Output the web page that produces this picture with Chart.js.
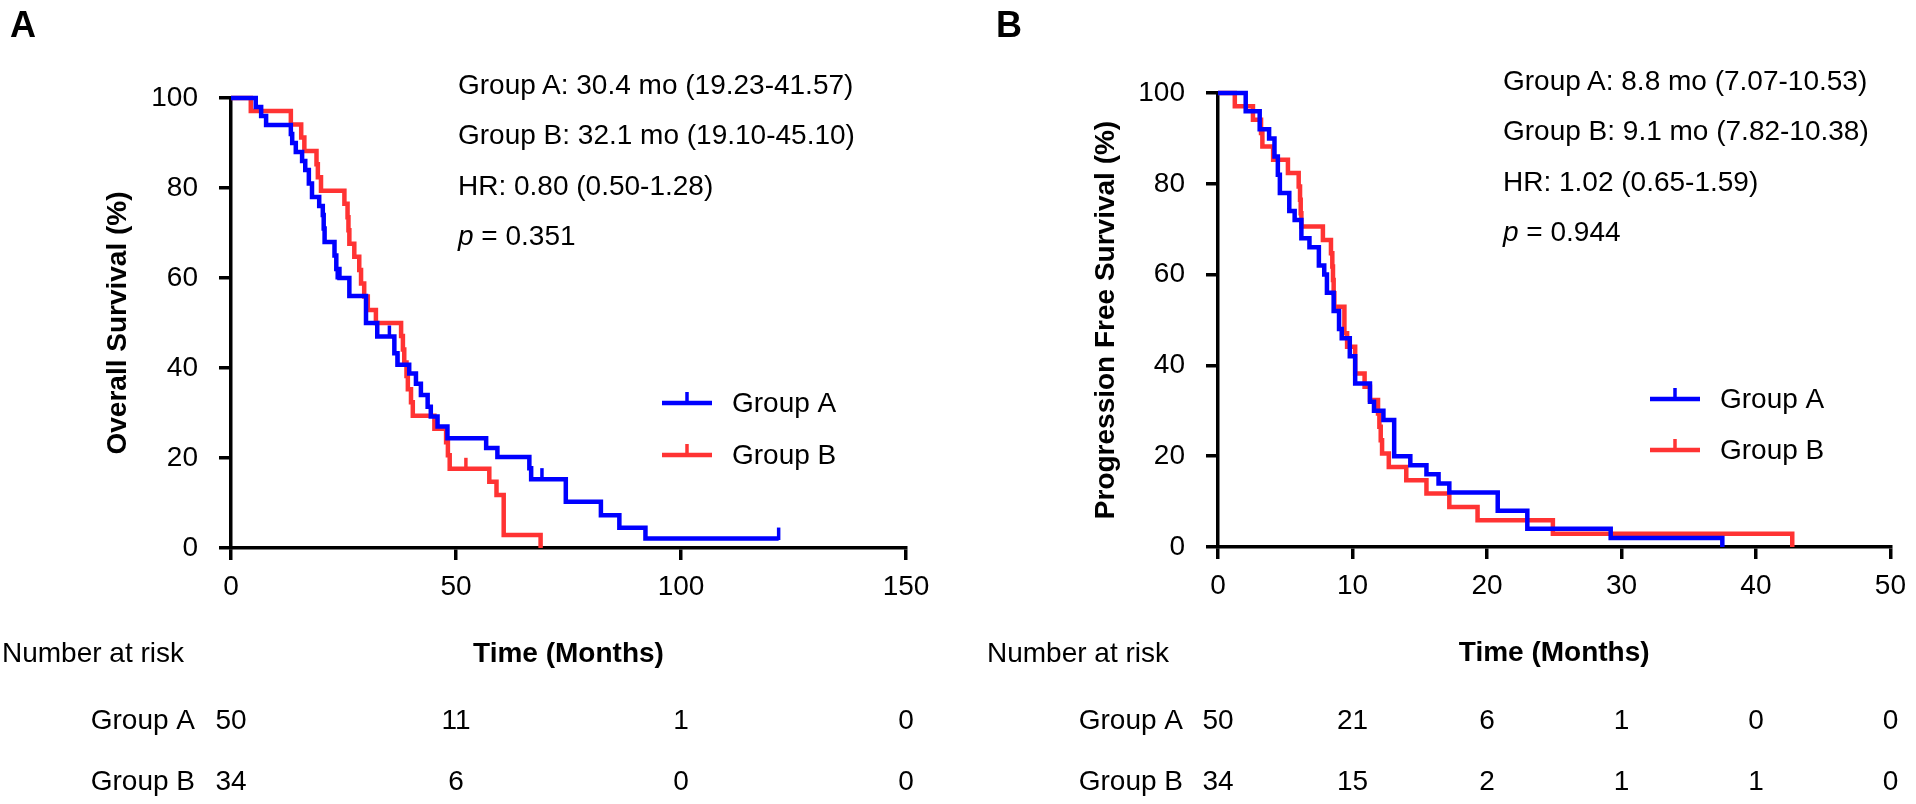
<!DOCTYPE html>
<html>
<head>
<meta charset="utf-8">
<script src="https://cdn.jsdelivr.net/npm/chart.js@4.4.0/dist/chart.umd.min.js"></script>
<style>
  body { margin: 0; background: #fff; }
  #page { position: relative; width: 1916px; height: 804px; overflow: hidden; font-family: "Liberation Sans", Arial, sans-serif; color: #000; }
  .panel { position: absolute; top: 0; width: 958px; height: 804px; }
  .txt { position: absolute; font-size: 28px; line-height: 28px; white-space: nowrap; }
  .letter { position: absolute; font-size: 36px; line-height: 36px; font-weight: bold; }
</style>
</head>
<body>
<div id="page">
  <div class="panel" style="left:0"><canvas id="os"></canvas></div>
  <div class="panel" style="left:958px"><canvas id="pfs"></canvas></div>

  <div class="letter" style="left:10px;top:7px">A</div>
  <div class="letter" style="left:996px;top:7px">B</div>

  <div class="txt" style="left:458px;top:71px">Group A: 30.4 mo (19.23-41.57)</div>
  <div class="txt" style="left:458px;top:121px">Group B: 32.1 mo (19.10-45.10)</div>
  <div class="txt" style="left:458px;top:172px">HR: 0.80 (0.50-1.28)</div>
  <div class="txt" style="left:458px;top:222px"><i>p</i> = 0.351</div>

  <div class="txt" style="left:1503px;top:67px">Group A: 8.8 mo (7.07-10.53)</div>
  <div class="txt" style="left:1503px;top:117px">Group B: 9.1 mo (7.82-10.38)</div>
  <div class="txt" style="left:1503px;top:168px">HR: 1.02 (0.65-1.59)</div>
  <div class="txt" style="left:1503px;top:218px"><i>p</i> = 0.944</div>
</div>

<script>
// overall survival (months, %)
const osTimesA = [0, 5.5, 6.7, 7.8, 13.3, 13.6, 14.4, 15.8, 16.5, 17.3, 18.0, 19.6, 20.4, 20.6, 20.8, 23.0, 23.4, 24.1, 26.3, 30.0, 32.5, 36.3, 37.0, 39.6, 41.1, 42.2, 43.7, 44.4, 45.9, 48.1, 56.7, 59.2, 66.3, 66.7, 74.4, 82.2, 86.3, 92.1, 121.7];
const osSurvA  = [100, 98, 96, 94, 92, 90, 88, 86, 84, 81, 78, 76, 74, 71, 68, 65, 62, 60, 56, 50, 47, 43.3, 40.7, 38.8, 36.5, 34, 31.4, 29.2, 27, 24.4, 22.2, 20.2, 17.7, 15.3, 10.3, 7.3, 4.5, 2.1, 2.1];
const osCensorTimesA = [23.6, 35.2, 37.0, 69.1, 121.7];
const osCensorSurvA  = [60, 47, 40.7, 15.3, 2.1];

const osTimesB = [0, 4.4, 13.3, 15.6, 16.3, 19.0, 19.3, 20.0, 25.2, 25.9, 26.1, 26.3, 27.4, 28.5, 28.9, 29.6, 30.4, 32.2, 37.8, 38.2, 38.5, 39.0, 39.3, 40.0, 40.4, 45.2, 47.8, 48.2, 48.6, 57.4, 59.0, 60.6, 68.8];
const osSurvB  = [100, 97.1, 94.1, 91.2, 88.2, 85.3, 82.4, 79.4, 76.5, 73.5, 70.6, 67.6, 64.7, 61.8, 58.8, 55.9, 52.9, 50.0, 47.1, 44.1, 41.2, 38.2, 35.3, 32.4, 29.4, 26.5, 23.5, 20.6, 17.6, 14.7, 11.8, 2.9, 0];
const osCensorTimesB = [52.2];
const osCensorSurvB  = [17.6];

// progression free survival (months, %)
const pfsTimesA = [0, 2.06, 3.1, 3.8, 4.2, 4.45, 4.6, 5.3, 5.7, 6.2, 6.8, 7.5, 7.9, 8.1, 8.6, 9.0, 9.2, 9.8, 10.2, 11.3, 11.6, 12.3, 13.1, 14.3, 15.5, 16.4, 17.2, 20.8, 23.0, 29.2, 37.5];
const pfsSurvA  = [100, 96, 92, 90, 86, 82, 78, 74, 72, 68, 66, 62, 60, 56, 52, 48, 46, 42, 36, 32, 30, 28, 20, 18, 16, 14, 12, 8, 4, 2, 0];

const pfsTimesB = [0, 1.25, 2.6, 3.2, 3.3, 4.1, 5.2, 6.0, 6.1, 6.15, 6.2, 7.8, 8.4, 8.5, 8.55, 8.6, 8.65, 9.4, 9.6, 10.2, 10.9, 11.3, 11.9, 12.0, 12.1, 12.2, 12.7, 14.0, 15.5, 17.2, 19.3, 24.9, 42.7];
const pfsSurvB  = [100, 97.1, 94.1, 91.2, 88.2, 85.3, 82.4, 79.4, 76.5, 73.5, 70.6, 67.6, 64.7, 61.8, 58.8, 55.9, 52.9, 47.1, 44.1, 38.2, 35.3, 32.4, 29.4, 26.5, 23.5, 20.6, 17.6, 14.7, 11.8, 8.8, 5.9, 2.9, 0];

// ticks and number at risk
const yTicks = [0, 20, 40, 60, 80, 100];
const osTicks = [0, 50, 100, 150];
const osRiskA = [50, 11, 1, 0];
const osRiskB = [34, 6, 0, 0];
const pfsTicks = [0, 10, 20, 30, 40, 50];
const pfsRiskA = [50, 21, 6, 1, 0, 0];
const pfsRiskB = [34, 15, 2, 1, 1, 0];

const BLUE = '#0000ff';
const RED = '#ff3333';
const FONT = '"Liberation Sans", Arial, sans-serif';

const pts = (xs, ys) => xs.map((t, i) => ({ x: t, y: ys[i] }));

const kmExtras = {
  id: 'kmExtras',
  afterDatasetsDraw(chart, args, o) {
    const { ctx, scales: { x, y } } = chart;
    ctx.save();
    ctx.lineWidth = 3.5;

    // censor ticks
    o.censors.forEach(c => {
      ctx.strokeStyle = c.color;
      c.times.forEach((t, i) => {
        const px = x.getPixelForValue(t), py = y.getPixelForValue(c.surv[i]);
        ctx.beginPath(); ctx.moveTo(px, py + 1.5); ctx.lineTo(px, py - 11); ctx.stroke();
      });
    });

    // legend
    ctx.font = '28px ' + FONT;
    ctx.textBaseline = 'middle';
    ctx.textAlign = 'left';
    o.legend.items.forEach((it, i) => {
      const ly = o.legend.y[i];
      ctx.strokeStyle = it.color;
      ctx.lineWidth = 4.5;
      ctx.beginPath(); ctx.moveTo(o.legend.x, ly); ctx.lineTo(o.legend.x + 50, ly); ctx.stroke();
      ctx.lineWidth = 3.5;
      ctx.beginPath(); ctx.moveTo(o.legend.x + 25, ly); ctx.lineTo(o.legend.x + 25, ly - 11); ctx.stroke();
      ctx.fillStyle = '#000';
      ctx.fillText(it.label, o.legend.x + 70, ly + 1);
    });

    // number at risk
    ctx.fillStyle = '#000';
    ctx.fillText('Number at risk', o.risk.headX, o.risk.headY);
    o.risk.rows.forEach((r, i) => {
      const ry = o.risk.rowY[i];
      ctx.textAlign = 'right';
      ctx.fillText(r.label, o.risk.labelX, ry);
      ctx.textAlign = 'center';
      o.risk.times.forEach((t, k) => ctx.fillText(String(r.values[k]), x.getPixelForValue(t), ry));
    });
    ctx.restore();
  }
};

function kmChart(id, cfg) {
  return new Chart(document.getElementById(id), {
    type: 'line',
    data: {
      datasets: [
        { label: 'Group A', data: pts(cfg.timesA, cfg.survA), borderColor: BLUE },
        { label: 'Group B', data: pts(cfg.timesB, cfg.survB), borderColor: RED }
      ].map(d => Object.assign(d, { stepped: true, borderWidth: 4.5, pointRadius: 0, fill: false, clip: false }))
    },
    options: {
      responsive: true,
      maintainAspectRatio: false,
      animation: false,
      events: [],
      layout: { padding: cfg.padding },
      plugins: {
        legend: { display: false },
        tooltip: { enabled: false },
        kmExtras: cfg.extras
      },
      scales: {
        x: {
          type: 'linear', min: 0, max: cfg.xTicks[cfg.xTicks.length - 1],
          afterBuildTicks: s => { s.ticks = cfg.xTicks.map(v => ({ value: v })); },
          afterFit: s => { s.height = 123; },
          border: { color: '#000', width: 3.5 },
          grid: { drawOnChartArea: false, drawTicks: true, tickLength: 12, lineWidth: 3.5, color: '#000' },
          ticks: { color: '#000', padding: 10, font: { family: FONT, size: 28 }, maxRotation: 0 },
          title: { display: true, text: 'Time (Months)', color: '#000', padding: 0, font: { family: FONT, size: 28, weight: 'bold' } }
        },
        y: {
          min: 0, max: 100,
          afterBuildTicks: s => { s.ticks = yTicks.map(v => ({ value: v })); },
          afterFit: s => { s.width = cfg.yWidth; },
          border: { color: '#000', width: 3.5 },
          grid: { drawOnChartArea: false, drawTicks: true, tickLength: 12, lineWidth: 3.5, color: '#000' },
          ticks: { color: '#000', padding: 21, font: { family: FONT, size: 28 } },
          title: { display: true, text: cfg.yTitle, color: '#000', padding: 0, font: { family: FONT, size: 28, weight: 'bold' } }
        }
      }
    },
    plugins: [kmExtras]
  });
}

kmChart('os', {
  timesA: osTimesA, survA: osSurvA, timesB: osTimesB, survB: osSurvB,
  xTicks: osTicks, yTitle: 'Overall Survival (%)', yWidth: 130,
  padding: { left: 101, top: 98, right: 52, bottom: 133 },
  extras: {
    censors: [
      { color: BLUE, times: osCensorTimesA, surv: osCensorSurvA },
      { color: RED, times: osCensorTimesB, surv: osCensorSurvB }
    ],
    legend: { x: 662, y: [403, 455], items: [{ label: 'Group A', color: BLUE }, { label: 'Group B', color: RED }] },
    risk: {
      headX: 2, headY: 654, labelX: 195, rowY: [721, 782], times: osTicks,
      rows: [{ label: 'Group A', values: osRiskA }, { label: 'Group B', values: osRiskB }]
    }
  }
});

kmChart('pfs', {
  timesA: pfsTimesA, survA: pfsSurvA, timesB: pfsTimesB, survB: pfsSurvB,
  xTicks: pfsTicks, yTitle: 'Progression Free Survival (%)', yWidth: 129,
  padding: { left: 131, top: 93, right: 20, bottom: 134 },
  extras: {
    censors: [],
    legend: { x: 692, y: [399, 450], items: [{ label: 'Group A', color: BLUE }, { label: 'Group B', color: RED }] },
    risk: {
      headX: 29, headY: 654, labelX: 225, rowY: [721, 782], times: pfsTicks,
      rows: [{ label: 'Group A', values: pfsRiskA }, { label: 'Group B', values: pfsRiskB }]
    }
  }
});
</script>
</body>
</html>
